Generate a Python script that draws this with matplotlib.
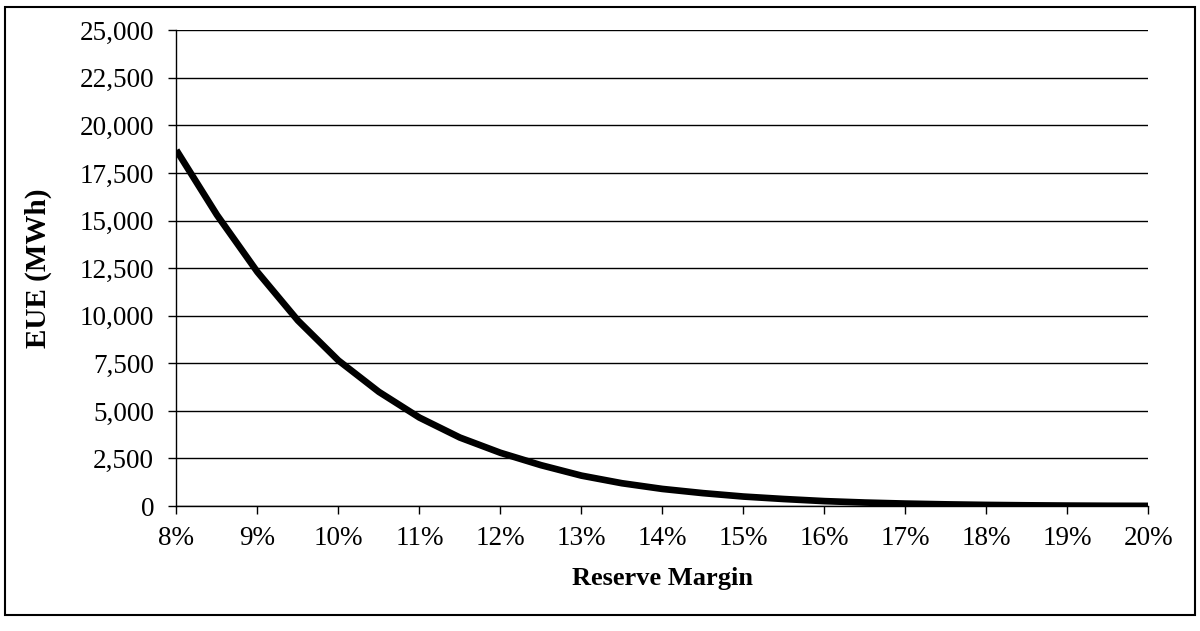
import matplotlib
matplotlib.use('Agg')
import numpy as np
from matplotlib import pyplot as plt
from matplotlib.patches import Rectangle
from matplotlib.ticker import FuncFormatter

# reserve margin (%) and expected unserved energy (MWh)
reserve_margin = [8.0, 8.5, 9.0, 9.5, 10.0, 10.5, 11.0, 11.5, 12.0, 12.5,
                  13.0, 13.5, 14.0, 14.5, 15.0, 15.5, 16.0, 16.5, 17.0,
                  17.5, 18.0, 18.5, 19.0, 19.5, 20.0]
eue_mwh = [18700, 15300, 12300, 9750, 7650, 6000, 4650, 3600, 2800, 2150,
           1600, 1200, 900, 680, 500, 370, 260, 185, 130,
           90, 60, 40, 25, 15, 10]

x_ticks = list(range(8, 21))
y_ticks = list(range(0, 25001, 2500))

plt.rcParams['font.family'] = 'Liberation Serif'

fig = plt.figure(figsize=(12, 6.31), dpi=100)
ax = fig.add_axes([0.147, 0.198, 0.81, 0.754])

ax.plot(reserve_margin, eue_mwh, color='black', linewidth=4.8,
        solid_capstyle='butt', solid_joinstyle='round', zorder=3)

ax.set_xlim(8, 20)
ax.set_ylim(0, 25000)
ax.set_xticks(x_ticks)
ax.set_yticks(y_ticks)
ax.xaxis.set_major_formatter(FuncFormatter(lambda v, p: '%d%%' % v))
ax.yaxis.set_major_formatter(FuncFormatter(lambda v, p: '{:,.0f}'.format(v)))

ax.grid(axis='y', color='black', linewidth=1.0)
ax.set_axisbelow(True)
for side in ['top', 'right']:
    ax.spines[side].set_visible(False)
for side in ['left', 'bottom']:
    ax.spines[side].set_linewidth(1.0)

ax.tick_params(axis='both', direction='out', length=6, width=1.0,
               labelsize=19.5, colors='black')
ax.tick_params(axis='y', pad=10)
ax.tick_params(axis='x', pad=8)

ax.set_xlabel('Reserve Margin', fontsize=19, fontweight='bold', labelpad=12)
ax.set_ylabel('EUE (MWh)', fontsize=21, fontweight='bold', labelpad=20)

# outer frame of the chart
fig.patches.append(Rectangle((5 / 1200, 1 - 615 / 631), 1190 / 1200, 608 / 631,
                             transform=fig.transFigure, fill=False,
                             edgecolor='black', linewidth=1.5))

plt.savefig('out.png', dpi=100)
